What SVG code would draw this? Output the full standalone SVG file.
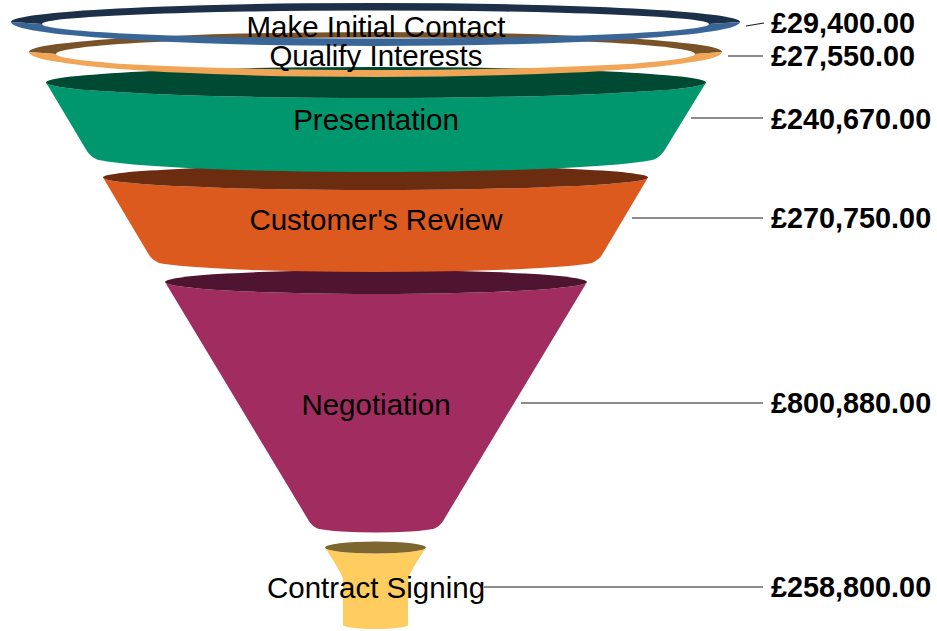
<svg xmlns="http://www.w3.org/2000/svg" width="937" height="631" viewBox="0 0 937 631">
<style>
.name{font-family:"Liberation Sans",Arial,sans-serif;font-size:29.5px;fill:#000;text-anchor:middle}
.val{font-family:"Liberation Sans",Arial,sans-serif;font-size:28.8px;font-weight:bold;fill:#000}
.lead{stroke:#1a1a1a;stroke-width:1.2;fill:none}
</style>
<rect width="937" height="631" fill="#fff"/>
<g id="contract-signing">
<path d="M325 547.5 Q341 572 343 579 L343 625 A32.5 4 0 0 0 408 625 L408 579 Q410 572 426 547.5 A50.5 6 0 0 1 325 547.5 Z" fill="#ffcd5f"/>
<ellipse cx="375.5" cy="547.5" rx="50.5" ry="6" fill="#7d6630"/>
</g>
<g id="negotiation">
<path d="M165 282 L308.9 520.9 Q312 526 318 528.7 A64 6.5 0 0 0 434 528.7 Q440 526 443.1 520.9 L587 282 A211 12 0 0 1 165 282 Z" fill="#a12c60"/>
<ellipse cx="376" cy="282" rx="211" ry="12" fill="#4f1530"/>
</g>
<g id="customers-review">
<path d="M103 177.5 L148.9 254.8 Q152 260 159 263 A223.5 12 0 0 0 592 263 Q599 260 602.1 254.8 L648 177.5 A272.5 12.5 0 0 1 103 177.5 Z" fill="#dd5a1f"/>
<ellipse cx="375.5" cy="177.5" rx="272.5" ry="12.5" fill="#6b2c10"/>
</g>
<g id="presentation">
<path d="M46 82.5 L86.9 150.9 Q90 156 97 159.5 A285.5 16 0 0 0 654 159.5 Q661 156 664.1 150.9 L706 82.5 A330 15.5 0 0 1 46 82.5 Z" fill="#00966e"/>
<ellipse cx="376" cy="82.5" rx="330" ry="15.5" fill="#004a33"/>
</g>
<g id="qualify-interests">
<path d="M29 52 A346.5 20 0 0 1 722 52 L695 54 A319.5 16.5 0 0 0 56 54 Z" fill="#7a5228"/>
<path d="M29 52 A346.5 25 0 0 0 722 52 L695 54 A319.5 16 0 0 1 56 54 Z" fill="#f0a656"/>
</g>
<g id="make-initial-contact">
<path d="M11 22 A364.5 19 0 0 1 740 22 L709 24 A333.5 13.5 0 0 0 42 24 Z" fill="#1d3049"/>
<path d="M11 22 A364.5 24 0 0 0 740 22 L709 24 A333.5 14.5 0 0 1 42 24 Z" fill="#3a6597"/>
</g>
<g id="connectors">
<line class="lead" x1="746" y1="26" x2="764" y2="23"/>
<line class="lead" x1="728" y1="56" x2="763" y2="56"/>
<line class="lead" x1="691" y1="118" x2="763" y2="118"/>
<line class="lead" x1="632" y1="218" x2="763" y2="218"/>
<line class="lead" x1="521" y1="403" x2="763" y2="403"/>
<line class="lead" x1="484" y1="587" x2="763" y2="587"/>
</g>
<g id="labels">
<text class="name" x="376" y="37">Make Initial Contact</text>
<text class="name" x="376" y="66">Qualify Interests</text>
<text class="name" x="376" y="130">Presentation</text>
<text class="name" x="376" y="230">Customer's Review</text>
<text class="name" x="376" y="415">Negotiation</text>
<text class="name" x="376" y="598">Contract Signing</text>
<text class="val" x="771" y="33">£29,400.00</text>
<text class="val" x="771" y="66">£27,550.00</text>
<text class="val" x="771" y="129">£240,670.00</text>
<text class="val" x="771" y="228">£270,750.00</text>
<text class="val" x="771" y="413">£800,880.00</text>
<text class="val" x="771" y="597">£258,800.00</text>
</g>
</svg>
